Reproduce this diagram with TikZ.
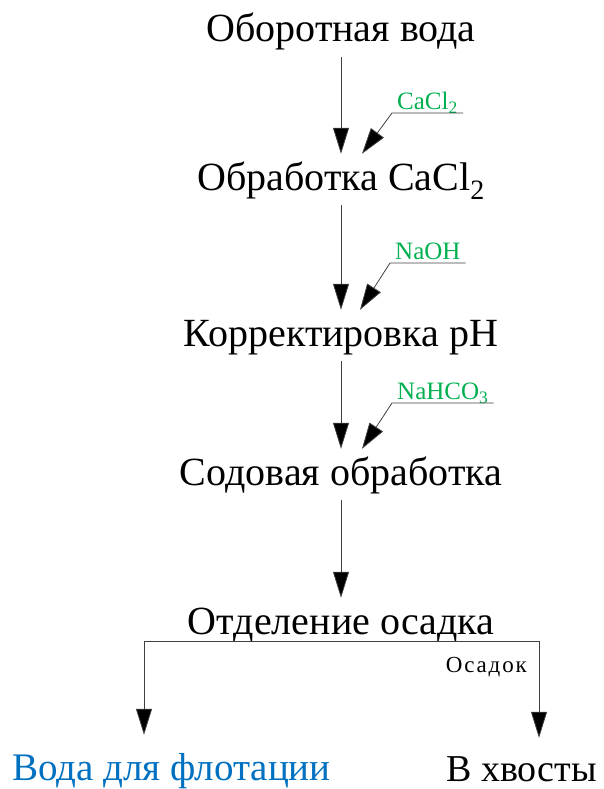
\documentclass[tikz,border=0pt]{standalone}
\usepackage{fontspec}
\setmainfont{Liberation Serif}
\usetikzlibrary{arrows.meta}
\definecolor{reagentgreen}{HTML}{00B050}
\definecolor{waterblue}{HTML}{0070C0}
\definecolor{linegray}{HTML}{404040}
\begin{document}
\begin{tikzpicture}[x=1pt,y=-1pt,
  stage/.style={anchor=base,inner sep=0pt,text height=36pt,text depth=15pt,font=\fontsize{40}{42}\selectfont},
  reagent/.style={anchor=south west,inner xsep=5pt,inner ysep=0pt,text depth=3pt,text=reagentgreen,font=\fontsize{25}{27}\selectfont},
  outlet/.style={anchor=base west,inner sep=0pt,text height=45pt,font=\fontsize{39}{41}\selectfont},
  small/.style={anchor=base east,inner sep=0pt,font=\fontsize{23}{25}\selectfont\addfontfeatures{LetterSpace=8}},
  conn/.style={draw=linegray,line width=0.8pt},
  arr/.style={conn,-{Triangle[length=26pt,width=16pt,fill=black]}}]
\useasboundingbox (0,0) rectangle (604,789);
\node[stage] (s1) at (341,42) {Оборотная вода};
\node[stage] (s2) at (341,190) {Обработка CaCl\textsubscript{2}};
\node[stage] (s3) at (341,346) {Корректировка pH};
\node[stage] (s4) at (341,485) {Содовая обработка};
\node[stage] (s5) at (341,634) {Отделение осадка};
\node[reagent] (r1) at (392,113) {CaCl\textsubscript{2}};
\node[reagent] (r2) at (390,263) {NaOH};
\node[reagent] (r3) at (392,403) {NaHCO\textsubscript{3}};
\draw[arr] (s1) -- (s2);
\draw[arr] (s2) -- (s3);
\draw[arr] (s3) -- (s4);
\draw[arr] (s4) -- (s5);
\draw[arr] (r1.south east) -- (r1.south west) -- ([xshift=21pt]s2.north);
\draw[arr] (r2.south east) -- (r2.south west) -- ([xshift=19pt]s3.north);
\draw[arr] (r3.south east) -- (r3.south west) -- ([xshift=21pt]s4.north);
\node[outlet,text=waterblue] (w) at (12,780) {Вода для флотации};
\node[outlet,text height=43pt,font=\fontsize{38}{40}\selectfont] (t) at (446,781) {В хвосты};
\node[small] (o) at (527,672) {Осадок};
\coordinate (bl) at (144,641);
\coordinate (br) at (539,641);
\draw[conn] (bl) -- (br);
\draw[arr] (bl) -- (bl |- w.north);
\draw[arr] (br) -- (br |- t.north);
\end{tikzpicture}
\end{document}
